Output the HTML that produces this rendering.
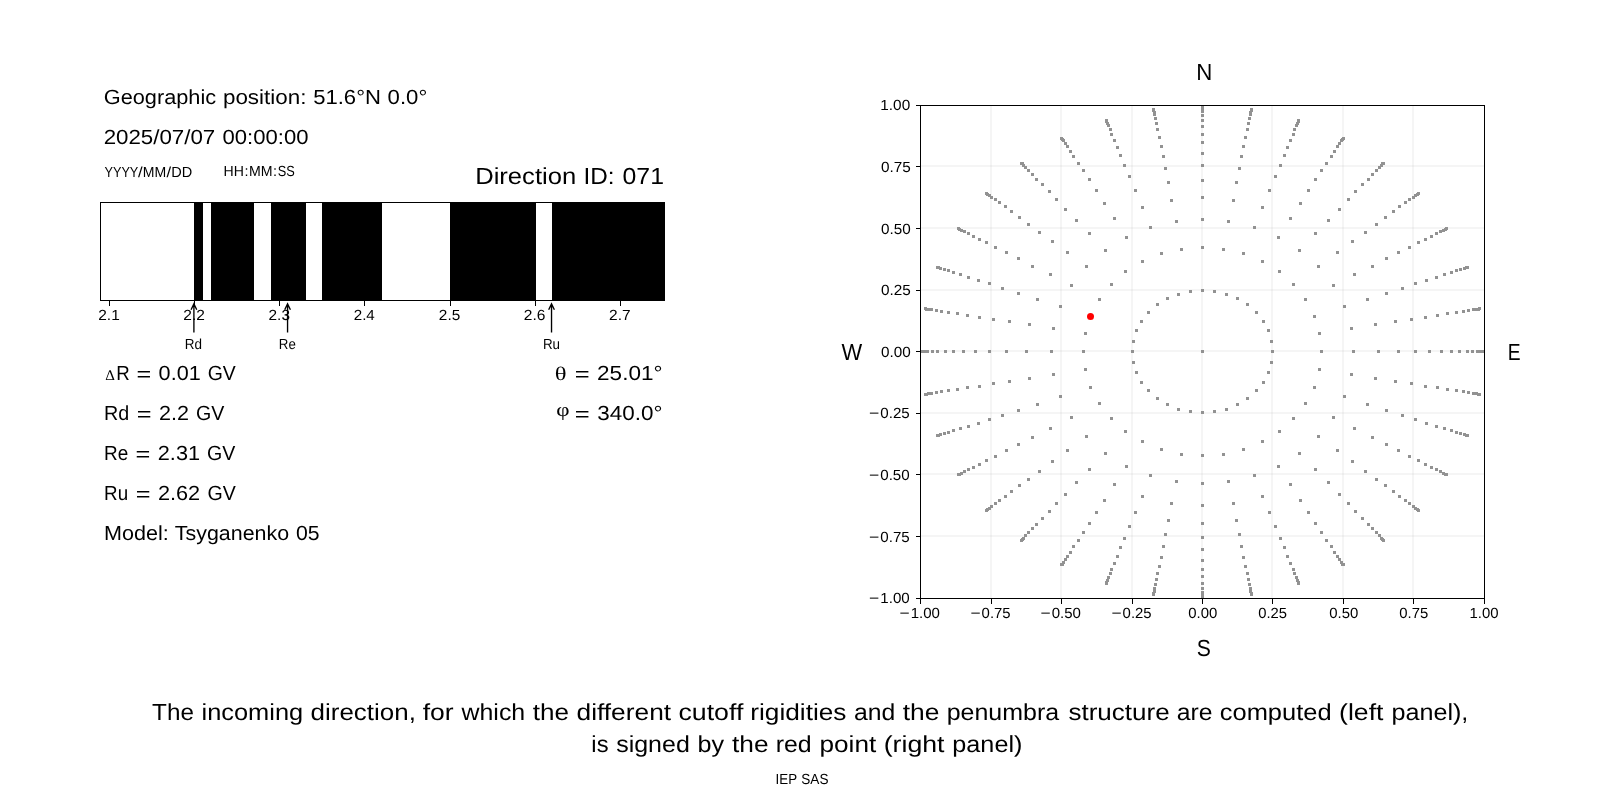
<!DOCTYPE html>
<html lang="en"><head><meta charset="utf-8"><title>Cutoff rigidity — direction 071</title>
<style>
html,body{margin:0;padding:0;background:#fff;}
body{width:1600px;height:800px;overflow:hidden;font-family:"Liberation Sans",sans-serif;}
svg{display:block;}
text{font-family:"Liberation Sans",sans-serif;fill:#000;white-space:pre;text-rendering:geometricPrecision;}
text.r{font-family:"Liberation Serif",serif;}
.sp{stroke:#000;stroke-width:1;fill:none;shape-rendering:crispEdges;}
.gr{stroke:#b0b0b0;stroke-opacity:0.12;stroke-width:2;shape-rendering:crispEdges;}
.pt rect{fill:#929292;shape-rendering:crispEdges;}
</style></head>
<body>
<svg style="will-change:transform" width="1600" height="800" viewBox="0 0 1600 800">
<rect x="0" y="0" width="1600" height="800" fill="#fff"/>
<g id="penumbra">
<rect x="194" y="202" width="9" height="99" fill="#000" shape-rendering="crispEdges"/>
<rect x="211" y="202" width="43" height="99" fill="#000" shape-rendering="crispEdges"/>
<rect x="271" y="202" width="35" height="99" fill="#000" shape-rendering="crispEdges"/>
<rect x="322" y="202" width="60" height="99" fill="#000" shape-rendering="crispEdges"/>
<rect x="450" y="202" width="86" height="99" fill="#000" shape-rendering="crispEdges"/>
<rect x="552" y="202" width="113" height="99" fill="#000" shape-rendering="crispEdges"/>
<rect class="sp" x="100.5" y="202.5" width="564" height="98"/>
<line class="sp" x1="109.5" y1="301" x2="109.5" y2="305.5"/>
<line class="sp" x1="194.5" y1="301" x2="194.5" y2="305.5"/>
<line class="sp" x1="279.5" y1="301" x2="279.5" y2="305.5"/>
<line class="sp" x1="364.5" y1="301" x2="364.5" y2="305.5"/>
<line class="sp" x1="450.5" y1="301" x2="450.5" y2="305.5"/>
<line class="sp" x1="535.5" y1="301" x2="535.5" y2="305.5"/>
<line class="sp" x1="620.5" y1="301" x2="620.5" y2="305.5"/>
<path d="M193.90 332.6V304.2 M191.05 309.7L193.90 303.9L196.75 309.7" stroke="#000" stroke-width="1.35" fill="none" stroke-linecap="butt" stroke-linejoin="miter"/>
<path d="M287.56 332.6V304.2 M284.71 309.7L287.56 303.9L290.41 309.7" stroke="#000" stroke-width="1.35" fill="none" stroke-linecap="butt" stroke-linejoin="miter"/>
<path d="M551.53 332.6V304.2 M548.68 309.7L551.53 303.9L554.38 309.7" stroke="#000" stroke-width="1.35" fill="none" stroke-linecap="butt" stroke-linejoin="miter"/>
</g>
<g id="skymap">
<line class="gr" x1="991" y1="106" x2="991" y2="598"/>
<line class="gr" x1="921" y1="536" x2="1484" y2="536"/>
<line class="gr" x1="1061" y1="106" x2="1061" y2="598"/>
<line class="gr" x1="921" y1="474" x2="1484" y2="474"/>
<line class="gr" x1="1132" y1="106" x2="1132" y2="598"/>
<line class="gr" x1="921" y1="413" x2="1484" y2="413"/>
<line class="gr" x1="1202" y1="106" x2="1202" y2="598"/>
<line class="gr" x1="921" y1="351" x2="1484" y2="351"/>
<line class="gr" x1="1272" y1="106" x2="1272" y2="598"/>
<line class="gr" x1="921" y1="290" x2="1484" y2="290"/>
<line class="gr" x1="1343" y1="106" x2="1343" y2="598"/>
<line class="gr" x1="921" y1="228" x2="1484" y2="228"/>
<line class="gr" x1="1413" y1="106" x2="1413" y2="598"/>
<line class="gr" x1="921" y1="166" x2="1484" y2="166"/>
<clipPath id="c"><rect x="920.5" y="105.5" width="564" height="493"/></clipPath>
<g class="pt" clip-path="url(#c)">
<rect x="1201" y="350" width="3" height="3"/><rect x="1271" y="350" width="3" height="3"/><rect x="1270" y="340" width="3" height="3"/><rect x="1267" y="329" width="3" height="3"/><rect x="1262" y="320" width="3" height="3"/><rect x="1255" y="311" width="3" height="3"/><rect x="1246" y="303" width="3" height="3"/><rect x="1236" y="297" width="3" height="3"/><rect x="1225" y="293" width="3" height="3"/><rect x="1213" y="290" width="3" height="3"/><rect x="1201" y="289" width="3" height="3"/><rect x="1189" y="290" width="3" height="3"/><rect x="1177" y="293" width="3" height="3"/><rect x="1166" y="297" width="3" height="3"/><rect x="1156" y="303" width="3" height="3"/><rect x="1147" y="311" width="3" height="3"/><rect x="1140" y="320" width="3" height="3"/><rect x="1135" y="329" width="3" height="3"/><rect x="1132" y="340" width="3" height="3"/><rect x="1131" y="350" width="3" height="3"/><rect x="1132" y="361" width="3" height="3"/><rect x="1135" y="371" width="3" height="3"/><rect x="1140" y="381" width="3" height="3"/><rect x="1147" y="389" width="3" height="3"/><rect x="1156" y="397" width="3" height="3"/><rect x="1166" y="403" width="3" height="3"/><rect x="1177" y="408" width="3" height="3"/><rect x="1189" y="410" width="3" height="3"/><rect x="1201" y="411" width="3" height="3"/><rect x="1213" y="410" width="3" height="3"/><rect x="1225" y="408" width="3" height="3"/><rect x="1236" y="403" width="3" height="3"/><rect x="1246" y="397" width="3" height="3"/><rect x="1255" y="389" width="3" height="3"/><rect x="1262" y="381" width="3" height="3"/><rect x="1267" y="371" width="3" height="3"/><rect x="1270" y="361" width="3" height="3"/><rect x="1320" y="350" width="3" height="3"/><rect x="1318" y="332" width="3" height="3"/><rect x="1313" y="315" width="3" height="3"/><rect x="1304" y="298" width="3" height="3"/><rect x="1292" y="283" width="3" height="3"/><rect x="1278" y="270" width="3" height="3"/><rect x="1261" y="260" width="3" height="3"/><rect x="1242" y="252" width="3" height="3"/><rect x="1222" y="248" width="3" height="3"/><rect x="1201" y="246" width="3" height="3"/><rect x="1180" y="248" width="3" height="3"/><rect x="1160" y="252" width="3" height="3"/><rect x="1141" y="260" width="3" height="3"/><rect x="1124" y="270" width="3" height="3"/><rect x="1110" y="283" width="3" height="3"/><rect x="1098" y="298" width="3" height="3"/><rect x="1089" y="315" width="3" height="3"/><rect x="1084" y="332" width="3" height="3"/><rect x="1082" y="350" width="3" height="3"/><rect x="1084" y="368" width="3" height="3"/><rect x="1089" y="386" width="3" height="3"/><rect x="1098" y="402" width="3" height="3"/><rect x="1110" y="417" width="3" height="3"/><rect x="1124" y="430" width="3" height="3"/><rect x="1141" y="440" width="3" height="3"/><rect x="1160" y="448" width="3" height="3"/><rect x="1180" y="453" width="3" height="3"/><rect x="1201" y="454" width="3" height="3"/><rect x="1222" y="453" width="3" height="3"/><rect x="1242" y="448" width="3" height="3"/><rect x="1261" y="440" width="3" height="3"/><rect x="1278" y="430" width="3" height="3"/><rect x="1292" y="417" width="3" height="3"/><rect x="1304" y="402" width="3" height="3"/><rect x="1313" y="386" width="3" height="3"/><rect x="1318" y="368" width="3" height="3"/><rect x="1352" y="350" width="3" height="3"/><rect x="1350" y="327" width="3" height="3"/><rect x="1343" y="305" width="3" height="3"/><rect x="1332" y="284" width="3" height="3"/><rect x="1317" y="265" width="3" height="3"/><rect x="1298" y="249" width="3" height="3"/><rect x="1277" y="236" width="3" height="3"/><rect x="1253" y="226" width="3" height="3"/><rect x="1227" y="220" width="3" height="3"/><rect x="1201" y="218" width="3" height="3"/><rect x="1175" y="220" width="3" height="3"/><rect x="1149" y="226" width="3" height="3"/><rect x="1125" y="236" width="3" height="3"/><rect x="1104" y="249" width="3" height="3"/><rect x="1085" y="265" width="3" height="3"/><rect x="1070" y="284" width="3" height="3"/><rect x="1059" y="305" width="3" height="3"/><rect x="1052" y="327" width="3" height="3"/><rect x="1050" y="350" width="3" height="3"/><rect x="1052" y="373" width="3" height="3"/><rect x="1059" y="395" width="3" height="3"/><rect x="1070" y="416" width="3" height="3"/><rect x="1085" y="435" width="3" height="3"/><rect x="1104" y="452" width="3" height="3"/><rect x="1125" y="465" width="3" height="3"/><rect x="1149" y="474" width="3" height="3"/><rect x="1175" y="480" width="3" height="3"/><rect x="1201" y="482" width="3" height="3"/><rect x="1227" y="480" width="3" height="3"/><rect x="1253" y="474" width="3" height="3"/><rect x="1277" y="465" width="3" height="3"/><rect x="1298" y="452" width="3" height="3"/><rect x="1317" y="435" width="3" height="3"/><rect x="1332" y="416" width="3" height="3"/><rect x="1343" y="395" width="3" height="3"/><rect x="1350" y="373" width="3" height="3"/><rect x="1377" y="350" width="3" height="3"/><rect x="1374" y="323" width="3" height="3"/><rect x="1366" y="298" width="3" height="3"/><rect x="1353" y="273" width="3" height="3"/><rect x="1336" y="251" width="3" height="3"/><rect x="1314" y="232" width="3" height="3"/><rect x="1289" y="217" width="3" height="3"/><rect x="1261" y="206" width="3" height="3"/><rect x="1232" y="199" width="3" height="3"/><rect x="1201" y="196" width="3" height="3"/><rect x="1170" y="199" width="3" height="3"/><rect x="1141" y="206" width="3" height="3"/><rect x="1113" y="217" width="3" height="3"/><rect x="1088" y="232" width="3" height="3"/><rect x="1066" y="251" width="3" height="3"/><rect x="1049" y="273" width="3" height="3"/><rect x="1036" y="298" width="3" height="3"/><rect x="1028" y="323" width="3" height="3"/><rect x="1025" y="350" width="3" height="3"/><rect x="1028" y="377" width="3" height="3"/><rect x="1036" y="403" width="3" height="3"/><rect x="1049" y="427" width="3" height="3"/><rect x="1066" y="449" width="3" height="3"/><rect x="1088" y="468" width="3" height="3"/><rect x="1113" y="483" width="3" height="3"/><rect x="1141" y="495" width="3" height="3"/><rect x="1170" y="502" width="3" height="3"/><rect x="1201" y="504" width="3" height="3"/><rect x="1232" y="502" width="3" height="3"/><rect x="1261" y="495" width="3" height="3"/><rect x="1289" y="483" width="3" height="3"/><rect x="1314" y="468" width="3" height="3"/><rect x="1336" y="449" width="3" height="3"/><rect x="1353" y="427" width="3" height="3"/><rect x="1366" y="403" width="3" height="3"/><rect x="1374" y="377" width="3" height="3"/><rect x="1397" y="350" width="3" height="3"/><rect x="1394" y="320" width="3" height="3"/><rect x="1385" y="292" width="3" height="3"/><rect x="1371" y="265" width="3" height="3"/><rect x="1351" y="240" width="3" height="3"/><rect x="1327" y="219" width="3" height="3"/><rect x="1299" y="202" width="3" height="3"/><rect x="1268" y="189" width="3" height="3"/><rect x="1235" y="181" width="3" height="3"/><rect x="1201" y="179" width="3" height="3"/><rect x="1167" y="181" width="3" height="3"/><rect x="1134" y="189" width="3" height="3"/><rect x="1103" y="202" width="3" height="3"/><rect x="1075" y="219" width="3" height="3"/><rect x="1051" y="240" width="3" height="3"/><rect x="1031" y="265" width="3" height="3"/><rect x="1017" y="292" width="3" height="3"/><rect x="1008" y="320" width="3" height="3"/><rect x="1005" y="350" width="3" height="3"/><rect x="1008" y="380" width="3" height="3"/><rect x="1017" y="409" width="3" height="3"/><rect x="1031" y="436" width="3" height="3"/><rect x="1051" y="460" width="3" height="3"/><rect x="1075" y="481" width="3" height="3"/><rect x="1103" y="499" width="3" height="3"/><rect x="1134" y="511" width="3" height="3"/><rect x="1167" y="519" width="3" height="3"/><rect x="1201" y="522" width="3" height="3"/><rect x="1235" y="519" width="3" height="3"/><rect x="1268" y="511" width="3" height="3"/><rect x="1299" y="499" width="3" height="3"/><rect x="1327" y="481" width="3" height="3"/><rect x="1351" y="460" width="3" height="3"/><rect x="1371" y="436" width="3" height="3"/><rect x="1385" y="409" width="3" height="3"/><rect x="1394" y="380" width="3" height="3"/><rect x="1414" y="350" width="3" height="3"/><rect x="1410" y="318" width="3" height="3"/><rect x="1401" y="287" width="3" height="3"/><rect x="1385" y="257" width="3" height="3"/><rect x="1364" y="231" width="3" height="3"/><rect x="1338" y="208" width="3" height="3"/><rect x="1307" y="189" width="3" height="3"/><rect x="1274" y="175" width="3" height="3"/><rect x="1238" y="167" width="3" height="3"/><rect x="1201" y="164" width="3" height="3"/><rect x="1164" y="167" width="3" height="3"/><rect x="1128" y="175" width="3" height="3"/><rect x="1095" y="189" width="3" height="3"/><rect x="1064" y="208" width="3" height="3"/><rect x="1038" y="231" width="3" height="3"/><rect x="1017" y="257" width="3" height="3"/><rect x="1001" y="287" width="3" height="3"/><rect x="992" y="318" width="3" height="3"/><rect x="988" y="350" width="3" height="3"/><rect x="992" y="382" width="3" height="3"/><rect x="1001" y="414" width="3" height="3"/><rect x="1017" y="443" width="3" height="3"/><rect x="1038" y="470" width="3" height="3"/><rect x="1064" y="493" width="3" height="3"/><rect x="1095" y="511" width="3" height="3"/><rect x="1128" y="525" width="3" height="3"/><rect x="1164" y="533" width="3" height="3"/><rect x="1201" y="536" width="3" height="3"/><rect x="1238" y="533" width="3" height="3"/><rect x="1274" y="525" width="3" height="3"/><rect x="1307" y="511" width="3" height="3"/><rect x="1338" y="493" width="3" height="3"/><rect x="1364" y="470" width="3" height="3"/><rect x="1385" y="443" width="3" height="3"/><rect x="1401" y="414" width="3" height="3"/><rect x="1410" y="382" width="3" height="3"/><rect x="1428" y="350" width="3" height="3"/><rect x="1424" y="316" width="3" height="3"/><rect x="1414" y="282" width="3" height="3"/><rect x="1397" y="251" width="3" height="3"/><rect x="1375" y="223" width="3" height="3"/><rect x="1347" y="198" width="3" height="3"/><rect x="1314" y="178" width="3" height="3"/><rect x="1279" y="164" width="3" height="3"/><rect x="1240" y="155" width="3" height="3"/><rect x="1201" y="152" width="3" height="3"/><rect x="1162" y="155" width="3" height="3"/><rect x="1123" y="164" width="3" height="3"/><rect x="1088" y="178" width="3" height="3"/><rect x="1055" y="198" width="3" height="3"/><rect x="1027" y="223" width="3" height="3"/><rect x="1005" y="251" width="3" height="3"/><rect x="988" y="282" width="3" height="3"/><rect x="978" y="316" width="3" height="3"/><rect x="974" y="350" width="3" height="3"/><rect x="978" y="385" width="3" height="3"/><rect x="988" y="418" width="3" height="3"/><rect x="1005" y="449" width="3" height="3"/><rect x="1027" y="478" width="3" height="3"/><rect x="1055" y="502" width="3" height="3"/><rect x="1088" y="522" width="3" height="3"/><rect x="1123" y="537" width="3" height="3"/><rect x="1162" y="545" width="3" height="3"/><rect x="1201" y="548" width="3" height="3"/><rect x="1240" y="545" width="3" height="3"/><rect x="1279" y="537" width="3" height="3"/><rect x="1314" y="522" width="3" height="3"/><rect x="1347" y="502" width="3" height="3"/><rect x="1375" y="478" width="3" height="3"/><rect x="1397" y="449" width="3" height="3"/><rect x="1414" y="418" width="3" height="3"/><rect x="1424" y="385" width="3" height="3"/><rect x="1440" y="350" width="3" height="3"/><rect x="1436" y="314" width="3" height="3"/><rect x="1425" y="279" width="3" height="3"/><rect x="1408" y="246" width="3" height="3"/><rect x="1384" y="216" width="3" height="3"/><rect x="1354" y="190" width="3" height="3"/><rect x="1320" y="169" width="3" height="3"/><rect x="1283" y="154" width="3" height="3"/><rect x="1242" y="145" width="3" height="3"/><rect x="1201" y="141" width="3" height="3"/><rect x="1160" y="145" width="3" height="3"/><rect x="1119" y="154" width="3" height="3"/><rect x="1082" y="169" width="3" height="3"/><rect x="1048" y="190" width="3" height="3"/><rect x="1018" y="216" width="3" height="3"/><rect x="994" y="246" width="3" height="3"/><rect x="977" y="279" width="3" height="3"/><rect x="966" y="314" width="3" height="3"/><rect x="962" y="350" width="3" height="3"/><rect x="966" y="386" width="3" height="3"/><rect x="977" y="422" width="3" height="3"/><rect x="994" y="455" width="3" height="3"/><rect x="1018" y="484" width="3" height="3"/><rect x="1048" y="510" width="3" height="3"/><rect x="1082" y="531" width="3" height="3"/><rect x="1119" y="546" width="3" height="3"/><rect x="1160" y="556" width="3" height="3"/><rect x="1201" y="559" width="3" height="3"/><rect x="1242" y="556" width="3" height="3"/><rect x="1283" y="546" width="3" height="3"/><rect x="1320" y="531" width="3" height="3"/><rect x="1354" y="510" width="3" height="3"/><rect x="1384" y="484" width="3" height="3"/><rect x="1408" y="455" width="3" height="3"/><rect x="1425" y="422" width="3" height="3"/><rect x="1436" y="386" width="3" height="3"/><rect x="1450" y="350" width="3" height="3"/><rect x="1446" y="312" width="3" height="3"/><rect x="1435" y="276" width="3" height="3"/><rect x="1417" y="241" width="3" height="3"/><rect x="1392" y="210" width="3" height="3"/><rect x="1361" y="183" width="3" height="3"/><rect x="1325" y="162" width="3" height="3"/><rect x="1286" y="146" width="3" height="3"/><rect x="1244" y="136" width="3" height="3"/><rect x="1201" y="133" width="3" height="3"/><rect x="1158" y="136" width="3" height="3"/><rect x="1116" y="146" width="3" height="3"/><rect x="1077" y="162" width="3" height="3"/><rect x="1041" y="183" width="3" height="3"/><rect x="1010" y="210" width="3" height="3"/><rect x="985" y="241" width="3" height="3"/><rect x="967" y="276" width="3" height="3"/><rect x="956" y="312" width="3" height="3"/><rect x="952" y="350" width="3" height="3"/><rect x="956" y="388" width="3" height="3"/><rect x="967" y="425" width="3" height="3"/><rect x="985" y="459" width="3" height="3"/><rect x="1010" y="490" width="3" height="3"/><rect x="1041" y="517" width="3" height="3"/><rect x="1077" y="539" width="3" height="3"/><rect x="1116" y="555" width="3" height="3"/><rect x="1158" y="565" width="3" height="3"/><rect x="1201" y="568" width="3" height="3"/><rect x="1244" y="565" width="3" height="3"/><rect x="1286" y="555" width="3" height="3"/><rect x="1325" y="539" width="3" height="3"/><rect x="1361" y="517" width="3" height="3"/><rect x="1392" y="490" width="3" height="3"/><rect x="1417" y="459" width="3" height="3"/><rect x="1435" y="425" width="3" height="3"/><rect x="1446" y="388" width="3" height="3"/><rect x="1458" y="350" width="3" height="3"/><rect x="1455" y="311" width="3" height="3"/><rect x="1443" y="273" width="3" height="3"/><rect x="1424" y="238" width="3" height="3"/><rect x="1398" y="205" width="3" height="3"/><rect x="1367" y="178" width="3" height="3"/><rect x="1330" y="155" width="3" height="3"/><rect x="1289" y="139" width="3" height="3"/><rect x="1246" y="128" width="3" height="3"/><rect x="1201" y="125" width="3" height="3"/><rect x="1156" y="128" width="3" height="3"/><rect x="1113" y="139" width="3" height="3"/><rect x="1072" y="155" width="3" height="3"/><rect x="1035" y="178" width="3" height="3"/><rect x="1004" y="205" width="3" height="3"/><rect x="978" y="238" width="3" height="3"/><rect x="959" y="273" width="3" height="3"/><rect x="947" y="311" width="3" height="3"/><rect x="944" y="350" width="3" height="3"/><rect x="947" y="389" width="3" height="3"/><rect x="959" y="427" width="3" height="3"/><rect x="978" y="463" width="3" height="3"/><rect x="1004" y="495" width="3" height="3"/><rect x="1035" y="523" width="3" height="3"/><rect x="1072" y="545" width="3" height="3"/><rect x="1113" y="562" width="3" height="3"/><rect x="1156" y="572" width="3" height="3"/><rect x="1201" y="575" width="3" height="3"/><rect x="1246" y="572" width="3" height="3"/><rect x="1289" y="562" width="3" height="3"/><rect x="1330" y="545" width="3" height="3"/><rect x="1367" y="523" width="3" height="3"/><rect x="1398" y="495" width="3" height="3"/><rect x="1424" y="463" width="3" height="3"/><rect x="1443" y="427" width="3" height="3"/><rect x="1455" y="389" width="3" height="3"/><rect x="1466" y="350" width="3" height="3"/><rect x="1462" y="310" width="3" height="3"/><rect x="1450" y="271" width="3" height="3"/><rect x="1430" y="235" width="3" height="3"/><rect x="1404" y="201" width="3" height="3"/><rect x="1371" y="173" width="3" height="3"/><rect x="1333" y="150" width="3" height="3"/><rect x="1292" y="133" width="3" height="3"/><rect x="1247" y="122" width="3" height="3"/><rect x="1201" y="119" width="3" height="3"/><rect x="1155" y="122" width="3" height="3"/><rect x="1110" y="133" width="3" height="3"/><rect x="1069" y="150" width="3" height="3"/><rect x="1031" y="173" width="3" height="3"/><rect x="998" y="201" width="3" height="3"/><rect x="972" y="235" width="3" height="3"/><rect x="952" y="271" width="3" height="3"/><rect x="940" y="310" width="3" height="3"/><rect x="936" y="350" width="3" height="3"/><rect x="940" y="390" width="3" height="3"/><rect x="952" y="429" width="3" height="3"/><rect x="972" y="466" width="3" height="3"/><rect x="998" y="499" width="3" height="3"/><rect x="1031" y="527" width="3" height="3"/><rect x="1069" y="551" width="3" height="3"/><rect x="1110" y="568" width="3" height="3"/><rect x="1155" y="578" width="3" height="3"/><rect x="1201" y="582" width="3" height="3"/><rect x="1247" y="578" width="3" height="3"/><rect x="1292" y="568" width="3" height="3"/><rect x="1333" y="551" width="3" height="3"/><rect x="1371" y="527" width="3" height="3"/><rect x="1404" y="499" width="3" height="3"/><rect x="1430" y="466" width="3" height="3"/><rect x="1450" y="429" width="3" height="3"/><rect x="1462" y="390" width="3" height="3"/><rect x="1471" y="350" width="3" height="3"/><rect x="1467" y="309" width="3" height="3"/><rect x="1455" y="269" width="3" height="3"/><rect x="1435" y="232" width="3" height="3"/><rect x="1408" y="198" width="3" height="3"/><rect x="1375" y="169" width="3" height="3"/><rect x="1336" y="145" width="3" height="3"/><rect x="1293" y="128" width="3" height="3"/><rect x="1248" y="117" width="3" height="3"/><rect x="1201" y="114" width="3" height="3"/><rect x="1154" y="117" width="3" height="3"/><rect x="1109" y="128" width="3" height="3"/><rect x="1066" y="145" width="3" height="3"/><rect x="1027" y="169" width="3" height="3"/><rect x="994" y="198" width="3" height="3"/><rect x="967" y="232" width="3" height="3"/><rect x="947" y="269" width="3" height="3"/><rect x="935" y="309" width="3" height="3"/><rect x="931" y="350" width="3" height="3"/><rect x="935" y="391" width="3" height="3"/><rect x="947" y="431" width="3" height="3"/><rect x="967" y="468" width="3" height="3"/><rect x="994" y="502" width="3" height="3"/><rect x="1027" y="531" width="3" height="3"/><rect x="1066" y="555" width="3" height="3"/><rect x="1109" y="572" width="3" height="3"/><rect x="1154" y="583" width="3" height="3"/><rect x="1201" y="587" width="3" height="3"/><rect x="1248" y="583" width="3" height="3"/><rect x="1293" y="572" width="3" height="3"/><rect x="1336" y="555" width="3" height="3"/><rect x="1375" y="531" width="3" height="3"/><rect x="1408" y="502" width="3" height="3"/><rect x="1435" y="468" width="3" height="3"/><rect x="1455" y="431" width="3" height="3"/><rect x="1467" y="391" width="3" height="3"/><rect x="1476" y="350" width="3" height="3"/><rect x="1472" y="308" width="3" height="3"/><rect x="1459" y="268" width="3" height="3"/><rect x="1439" y="230" width="3" height="3"/><rect x="1412" y="196" width="3" height="3"/><rect x="1378" y="166" width="3" height="3"/><rect x="1338" y="142" width="3" height="3"/><rect x="1295" y="124" width="3" height="3"/><rect x="1249" y="113" width="3" height="3"/><rect x="1201" y="110" width="3" height="3"/><rect x="1153" y="113" width="3" height="3"/><rect x="1107" y="124" width="3" height="3"/><rect x="1064" y="142" width="3" height="3"/><rect x="1024" y="166" width="3" height="3"/><rect x="990" y="196" width="3" height="3"/><rect x="963" y="230" width="3" height="3"/><rect x="943" y="268" width="3" height="3"/><rect x="930" y="308" width="3" height="3"/><rect x="926" y="350" width="3" height="3"/><rect x="930" y="392" width="3" height="3"/><rect x="943" y="432" width="3" height="3"/><rect x="963" y="470" width="3" height="3"/><rect x="990" y="505" width="3" height="3"/><rect x="1024" y="534" width="3" height="3"/><rect x="1064" y="558" width="3" height="3"/><rect x="1107" y="576" width="3" height="3"/><rect x="1153" y="587" width="3" height="3"/><rect x="1201" y="591" width="3" height="3"/><rect x="1249" y="587" width="3" height="3"/><rect x="1295" y="576" width="3" height="3"/><rect x="1338" y="558" width="3" height="3"/><rect x="1378" y="534" width="3" height="3"/><rect x="1412" y="505" width="3" height="3"/><rect x="1439" y="470" width="3" height="3"/><rect x="1459" y="432" width="3" height="3"/><rect x="1472" y="392" width="3" height="3"/><rect x="1479" y="350" width="3" height="3"/><rect x="1475" y="308" width="3" height="3"/><rect x="1463" y="267" width="3" height="3"/><rect x="1442" y="229" width="3" height="3"/><rect x="1414" y="194" width="3" height="3"/><rect x="1380" y="164" width="3" height="3"/><rect x="1340" y="139" width="3" height="3"/><rect x="1296" y="122" width="3" height="3"/><rect x="1249" y="111" width="3" height="3"/><rect x="1201" y="107" width="3" height="3"/><rect x="1153" y="111" width="3" height="3"/><rect x="1106" y="122" width="3" height="3"/><rect x="1062" y="139" width="3" height="3"/><rect x="1022" y="164" width="3" height="3"/><rect x="988" y="194" width="3" height="3"/><rect x="960" y="229" width="3" height="3"/><rect x="939" y="267" width="3" height="3"/><rect x="927" y="308" width="3" height="3"/><rect x="923" y="350" width="3" height="3"/><rect x="927" y="392" width="3" height="3"/><rect x="939" y="433" width="3" height="3"/><rect x="960" y="472" width="3" height="3"/><rect x="988" y="507" width="3" height="3"/><rect x="1022" y="537" width="3" height="3"/><rect x="1062" y="561" width="3" height="3"/><rect x="1106" y="579" width="3" height="3"/><rect x="1153" y="590" width="3" height="3"/><rect x="1201" y="594" width="3" height="3"/><rect x="1249" y="590" width="3" height="3"/><rect x="1296" y="579" width="3" height="3"/><rect x="1340" y="561" width="3" height="3"/><rect x="1380" y="537" width="3" height="3"/><rect x="1414" y="507" width="3" height="3"/><rect x="1442" y="472" width="3" height="3"/><rect x="1463" y="433" width="3" height="3"/><rect x="1475" y="392" width="3" height="3"/><rect x="1482" y="350" width="3" height="3"/><rect x="1477" y="308" width="3" height="3"/><rect x="1465" y="266" width="3" height="3"/><rect x="1444" y="228" width="3" height="3"/><rect x="1416" y="193" width="3" height="3"/><rect x="1381" y="162" width="3" height="3"/><rect x="1341" y="138" width="3" height="3"/><rect x="1297" y="120" width="3" height="3"/><rect x="1250" y="109" width="3" height="3"/><rect x="1201" y="105" width="3" height="3"/><rect x="1152" y="109" width="3" height="3"/><rect x="1105" y="120" width="3" height="3"/><rect x="1061" y="138" width="3" height="3"/><rect x="1021" y="162" width="3" height="3"/><rect x="986" y="193" width="3" height="3"/><rect x="958" y="228" width="3" height="3"/><rect x="937" y="266" width="3" height="3"/><rect x="925" y="308" width="3" height="3"/><rect x="920" y="350" width="3" height="3"/><rect x="925" y="393" width="3" height="3"/><rect x="937" y="434" width="3" height="3"/><rect x="958" y="473" width="3" height="3"/><rect x="986" y="508" width="3" height="3"/><rect x="1021" y="538" width="3" height="3"/><rect x="1061" y="563" width="3" height="3"/><rect x="1105" y="581" width="3" height="3"/><rect x="1152" y="592" width="3" height="3"/><rect x="1201" y="596" width="3" height="3"/><rect x="1250" y="592" width="3" height="3"/><rect x="1297" y="581" width="3" height="3"/><rect x="1341" y="563" width="3" height="3"/><rect x="1381" y="538" width="3" height="3"/><rect x="1416" y="508" width="3" height="3"/><rect x="1444" y="473" width="3" height="3"/><rect x="1465" y="434" width="3" height="3"/><rect x="1477" y="393" width="3" height="3"/><rect x="1483" y="350" width="3" height="3"/><rect x="1478" y="307" width="3" height="3"/><rect x="1466" y="266" width="3" height="3"/><rect x="1445" y="227" width="3" height="3"/><rect x="1417" y="192" width="3" height="3"/><rect x="1382" y="162" width="3" height="3"/><rect x="1342" y="137" width="3" height="3"/><rect x="1297" y="119" width="3" height="3"/><rect x="1250" y="108" width="3" height="3"/><rect x="1201" y="104" width="3" height="3"/><rect x="1152" y="108" width="3" height="3"/><rect x="1105" y="119" width="3" height="3"/><rect x="1060" y="137" width="3" height="3"/><rect x="1020" y="162" width="3" height="3"/><rect x="985" y="192" width="3" height="3"/><rect x="957" y="227" width="3" height="3"/><rect x="936" y="266" width="3" height="3"/><rect x="924" y="307" width="3" height="3"/><rect x="919" y="350" width="3" height="3"/><rect x="924" y="393" width="3" height="3"/><rect x="936" y="434" width="3" height="3"/><rect x="957" y="473" width="3" height="3"/><rect x="985" y="509" width="3" height="3"/><rect x="1020" y="539" width="3" height="3"/><rect x="1060" y="563" width="3" height="3"/><rect x="1105" y="582" width="3" height="3"/><rect x="1152" y="593" width="3" height="3"/><rect x="1201" y="596" width="3" height="3"/><rect x="1250" y="593" width="3" height="3"/><rect x="1297" y="582" width="3" height="3"/><rect x="1342" y="563" width="3" height="3"/><rect x="1382" y="539" width="3" height="3"/><rect x="1417" y="509" width="3" height="3"/><rect x="1445" y="473" width="3" height="3"/><rect x="1466" y="434" width="3" height="3"/><rect x="1478" y="393" width="3" height="3"/>
</g>
<circle cx="1090.5" cy="316.5" r="3.5" fill="#f00"/>
<rect class="sp" x="920.5" y="105.5" width="564" height="493"/>
<line class="sp" x1="920.5" y1="599" x2="920.5" y2="603.5"/><line class="sp" x1="915.5" y1="598.5" x2="920" y2="598.5"/>
<line class="sp" x1="991.5" y1="599" x2="991.5" y2="603.5"/><line class="sp" x1="915.5" y1="536.5" x2="920" y2="536.5"/>
<line class="sp" x1="1061.5" y1="599" x2="1061.5" y2="603.5"/><line class="sp" x1="915.5" y1="474.5" x2="920" y2="474.5"/>
<line class="sp" x1="1132.5" y1="599" x2="1132.5" y2="603.5"/><line class="sp" x1="915.5" y1="413.5" x2="920" y2="413.5"/>
<line class="sp" x1="1202.5" y1="599" x2="1202.5" y2="603.5"/><line class="sp" x1="915.5" y1="351.5" x2="920" y2="351.5"/>
<line class="sp" x1="1272.5" y1="599" x2="1272.5" y2="603.5"/><line class="sp" x1="915.5" y1="290.5" x2="920" y2="290.5"/>
<line class="sp" x1="1343.5" y1="599" x2="1343.5" y2="603.5"/><line class="sp" x1="915.5" y1="228.5" x2="920" y2="228.5"/>
<line class="sp" x1="1413.5" y1="599" x2="1413.5" y2="603.5"/><line class="sp" x1="915.5" y1="166.5" x2="920" y2="166.5"/>
<line class="sp" x1="1484.5" y1="599" x2="1484.5" y2="603.5"/><line class="sp" x1="915.5" y1="105.5" x2="920" y2="105.5"/>
</g>
<g id="labels" style="filter:grayscale(1)">
<text id="geo" y="104.00" font-size="20.42"><tspan id="geo.0" x="103.73" y="104.00" textLength="112.40" lengthAdjust="spacingAndGlyphs">Geographic</tspan> <tspan id="geo.1" x="222.94" y="104.00" textLength="83.50" lengthAdjust="spacingAndGlyphs">position:</tspan> <tspan id="geo.2" x="313.19" y="104.00" textLength="67.74" lengthAdjust="spacingAndGlyphs">51.6°N</tspan> <tspan id="geo.3" x="387.62" y="104.00" textLength="39.64" lengthAdjust="spacingAndGlyphs">0.0°</tspan></text>
<text id="date" y="144.00" font-size="20.42"><tspan id="date.0" x="103.66" y="144.00" textLength="111.60" lengthAdjust="spacingAndGlyphs">2025/07/07</tspan> <tspan id="date.1" x="222.59" y="144.00" textLength="85.86" lengthAdjust="spacingAndGlyphs">00:00:00</tspan></text>
<text id="yyyy" y="177.00" font-size="14.65"><tspan id="yyyy.0" x="104.42" y="177.00" textLength="33.94" lengthAdjust="spacingAndGlyphs">YYYY</tspan><tspan id="yyyy.1" x="138.07" y="177.00" textLength="4.64" lengthAdjust="spacingAndGlyphs">/</tspan><tspan id="yyyy.2" x="142.87" y="177.00" textLength="23.42" lengthAdjust="spacingAndGlyphs">MM</tspan><tspan id="yyyy.3" x="166.51" y="177.00" textLength="4.64" lengthAdjust="spacingAndGlyphs">/</tspan><tspan id="yyyy.4" x="171.28" y="177.00" textLength="21.02" lengthAdjust="spacingAndGlyphs">DD</tspan></text>
<text id="hh" y="176.00" font-size="14.65"><tspan id="hh.0" x="223.54" y="176.00" textLength="20.38" lengthAdjust="spacingAndGlyphs">HH</tspan><tspan id="hh.1" x="244.39" y="176.00" textLength="4.01" lengthAdjust="spacingAndGlyphs">:</tspan><tspan id="hh.2" x="248.92" y="176.00" textLength="23.58" lengthAdjust="spacingAndGlyphs">MM</tspan><tspan id="hh.3" x="273.02" y="176.00" textLength="4.01" lengthAdjust="spacingAndGlyphs">:</tspan><tspan id="hh.4" x="277.64" y="176.00" textLength="17.05" lengthAdjust="spacingAndGlyphs">SS</tspan></text>
<text id="dir" y="184.00" font-size="23.30"><tspan id="dir.0" x="475.15" y="184.00" textLength="101.11" lengthAdjust="spacingAndGlyphs">Direction</tspan> <tspan id="dir.1" x="583.41" y="184.00" textLength="31.06" lengthAdjust="spacingAndGlyphs">ID:</tspan> <tspan id="dir.2" x="622.54" y="184.00" textLength="41.41" lengthAdjust="spacingAndGlyphs">071</tspan></text>
<text id="dRd" y="380.00" font-size="14.72" class="r"><tspan id="dRd.0" x="105.17" textLength="9.67" lengthAdjust="spacingAndGlyphs">Δ</tspan></text>
<text id="dR" y="380.00" font-size="20.42"><tspan id="dR.0" x="116.29" y="380.00" textLength="13.50" lengthAdjust="spacingAndGlyphs">R</tspan> <tspan id="dR.1" x="136.46" y="381.10" textLength="14.73" lengthAdjust="spacingAndGlyphs">=</tspan> <tspan id="dR.2" x="158.63" y="380.00" textLength="42.02" lengthAdjust="spacingAndGlyphs">0.01</tspan> <tspan id="dR.3" x="207.73" y="380.00" textLength="28.07" lengthAdjust="spacingAndGlyphs">GV</tspan></text>
<text id="Rd" y="420.00" font-size="20.42"><tspan id="Rd.0" x="104.06" y="420.00" textLength="25.21" lengthAdjust="spacingAndGlyphs">Rd</tspan> <tspan id="Rd.1" x="136.78" y="421.10" textLength="14.80" lengthAdjust="spacingAndGlyphs">=</tspan> <tspan id="Rd.2" x="159.05" y="420.00" textLength="29.95" lengthAdjust="spacingAndGlyphs">2.2</tspan> <tspan id="Rd.3" x="196.06" y="420.00" textLength="28.36" lengthAdjust="spacingAndGlyphs">GV</tspan></text>
<text id="Re" y="460.00" font-size="20.42"><tspan id="Re.0" x="104.02" y="460.00" textLength="24.20" lengthAdjust="spacingAndGlyphs">Re</tspan> <tspan id="Re.1" x="135.59" y="461.10" textLength="14.82" lengthAdjust="spacingAndGlyphs">=</tspan> <tspan id="Re.2" x="157.80" y="460.00" textLength="42.23" lengthAdjust="spacingAndGlyphs">2.31</tspan> <tspan id="Re.3" x="207.10" y="460.00" textLength="28.31" lengthAdjust="spacingAndGlyphs">GV</tspan></text>
<text id="Ru" y="500.00" font-size="20.42"><tspan id="Ru.0" x="104.09" y="500.00" textLength="24.02" lengthAdjust="spacingAndGlyphs">Ru</tspan> <tspan id="Ru.1" x="135.86" y="501.10" textLength="14.79" lengthAdjust="spacingAndGlyphs">=</tspan> <tspan id="Ru.2" x="157.96" y="500.00" textLength="42.21" lengthAdjust="spacingAndGlyphs">2.62</tspan> <tspan id="Ru.3" x="207.56" y="500.00" textLength="28.29" lengthAdjust="spacingAndGlyphs">GV</tspan></text>
<text id="model" y="540.00" font-size="20.42"><tspan id="model.0" x="103.95" y="540.00" textLength="64.80" lengthAdjust="spacingAndGlyphs">Model:</tspan> <tspan id="model.1" x="174.89" y="540.00" textLength="114.18" lengthAdjust="spacingAndGlyphs">Tsyganenko</tspan> <tspan id="model.2" x="296.07" y="540.00" textLength="23.61" lengthAdjust="spacingAndGlyphs">05</tspan></text>
<text id="th1" y="380.00" font-size="19.36" class="r"><tspan id="th1.0" x="554.86" textLength="11.82" lengthAdjust="spacingAndGlyphs">θ</tspan></text>
<text id="th2" y="380.00" font-size="20.42"><tspan id="th2.0" x="574.75" y="381.10" textLength="14.90" lengthAdjust="spacingAndGlyphs">=</tspan> <tspan id="th2.1" x="597.08" y="380.00" textLength="65.38" lengthAdjust="spacingAndGlyphs">25.01°</tspan></text>
<text id="ph1" y="415.80" font-size="19.10" class="r"><tspan id="ph1.0" x="556.37" textLength="13.30" lengthAdjust="spacingAndGlyphs">φ</tspan></text>
<text id="ph2" y="420.00" font-size="20.42"><tspan id="ph2.0" x="574.75" y="421.10" textLength="14.95" lengthAdjust="spacingAndGlyphs">=</tspan> <tspan id="ph2.1" x="597.29" y="420.00" textLength="65.11" lengthAdjust="spacingAndGlyphs">340.0°</tspan></text>
<text id="cap1" y="720.00" font-size="23.30"><tspan id="cap1.0" x="152.09" y="720.00" textLength="41.86" lengthAdjust="spacingAndGlyphs">The</tspan> <tspan id="cap1.1" x="201.56" y="720.00" textLength="101.59" lengthAdjust="spacingAndGlyphs">incoming</tspan> <tspan id="cap1.2" x="310.63" y="720.00" textLength="105.23" lengthAdjust="spacingAndGlyphs">direction,</tspan> <tspan id="cap1.3" x="422.78" y="720.00" textLength="30.92" lengthAdjust="spacingAndGlyphs">for</tspan> <tspan id="cap1.4" x="461.51" y="720.00" textLength="63.74" lengthAdjust="spacingAndGlyphs">which</tspan> <tspan id="cap1.5" x="532.87" y="720.00" textLength="36.28" lengthAdjust="spacingAndGlyphs">the</tspan> <tspan id="cap1.6" x="576.51" y="720.00" textLength="94.60" lengthAdjust="spacingAndGlyphs">different</tspan> <tspan id="cap1.7" x="678.42" y="720.00" textLength="64.91" lengthAdjust="spacingAndGlyphs">cutoff</tspan> <tspan id="cap1.8" x="750.28" y="720.00" textLength="96.17" lengthAdjust="spacingAndGlyphs">rigidities</tspan> <tspan id="cap1.9" x="853.90" y="720.00" textLength="41.25" lengthAdjust="spacingAndGlyphs">and</tspan> <tspan id="cap1.10" x="902.79" y="720.00" textLength="36.73" lengthAdjust="spacingAndGlyphs">the</tspan> <tspan id="cap1.11" x="946.66" y="720.00" textLength="112.43" lengthAdjust="spacingAndGlyphs">penumbra</tspan> <tspan id="cap1.12" x="1068.48" y="720.00" textLength="101.13" lengthAdjust="spacingAndGlyphs">structure</tspan> <tspan id="cap1.13" x="1176.80" y="720.00" textLength="35.74" lengthAdjust="spacingAndGlyphs">are</tspan> <tspan id="cap1.14" x="1219.77" y="720.00" textLength="111.77" lengthAdjust="spacingAndGlyphs">computed</tspan> <tspan id="cap1.15" x="1339.09" y="720.00" textLength="44.36" lengthAdjust="spacingAndGlyphs">(left</tspan> <tspan id="cap1.16" x="1391.40" y="720.00" textLength="76.97" lengthAdjust="spacingAndGlyphs">panel),</tspan></text>
<text id="cap2" y="752.00" font-size="23.30"><tspan id="cap2.0" x="591.38" y="752.00" textLength="17.16" lengthAdjust="spacingAndGlyphs">is</tspan> <tspan id="cap2.1" x="616.16" y="752.00" textLength="73.63" lengthAdjust="spacingAndGlyphs">signed</tspan> <tspan id="cap2.2" x="697.54" y="752.00" textLength="26.57" lengthAdjust="spacingAndGlyphs">by</tspan> <tspan id="cap2.3" x="732.03" y="752.00" textLength="36.58" lengthAdjust="spacingAndGlyphs">the</tspan> <tspan id="cap2.4" x="775.73" y="752.00" textLength="35.93" lengthAdjust="spacingAndGlyphs">red</tspan> <tspan id="cap2.5" x="819.48" y="752.00" textLength="56.75" lengthAdjust="spacingAndGlyphs">point</tspan> <tspan id="cap2.6" x="883.73" y="752.00" textLength="60.78" lengthAdjust="spacingAndGlyphs">(right</tspan> <tspan id="cap2.7" x="952.33" y="752.00" textLength="70.08" lengthAdjust="spacingAndGlyphs">panel)</tspan></text>
<text id="iep" y="784.00" font-size="14.65"><tspan id="iep.0" x="775.55" y="784.00" textLength="21.29" lengthAdjust="spacingAndGlyphs">IEP</tspan> <tspan id="iep.1" x="801.29" y="784.00" textLength="27.19" lengthAdjust="spacingAndGlyphs">SAS</tspan></text>
<text id="N" y="80.00" font-size="23.30"><tspan id="N.0" x="1196.22" textLength="16.07" lengthAdjust="spacingAndGlyphs">N</tspan></text>
<text id="S" y="656.00" font-size="23.30"><tspan id="S.0" x="1196.81" textLength="14.12" lengthAdjust="spacingAndGlyphs">S</tspan></text>
<text id="W" y="360.00" font-size="23.30"><tspan id="W.0" x="841.62" textLength="20.70" lengthAdjust="spacingAndGlyphs">W</tspan></text>
<text id="E" y="360.00" font-size="23.30"><tspan id="E.0" x="1507.70" textLength="12.84" lengthAdjust="spacingAndGlyphs">E</tspan></text>
<text id="lRd" y="349.00" font-size="14.65"><tspan id="lRd.0" x="184.80" textLength="17.23" lengthAdjust="spacingAndGlyphs">Rd</tspan></text>
<text id="lRe" y="349.00" font-size="14.65"><tspan id="lRe.0" x="278.81" textLength="17.00" lengthAdjust="spacingAndGlyphs">Re</tspan></text>
<text id="lRu" y="349.00" font-size="14.65"><tspan id="lRu.0" x="542.94" textLength="17.11" lengthAdjust="spacingAndGlyphs">Ru</tspan></text>
<text id="bt0" y="320.00" font-size="14.65"><tspan id="bt0.0" x="98.26" textLength="21.47" lengthAdjust="spacingAndGlyphs">2.1</tspan></text>
<text id="bt1" y="320.00" font-size="14.65"><tspan id="bt1.0" x="183.27" textLength="21.53" lengthAdjust="spacingAndGlyphs">2.2</tspan></text>
<text id="bt2" y="320.00" font-size="14.65"><tspan id="bt2.0" x="268.57" textLength="21.40" lengthAdjust="spacingAndGlyphs">2.3</tspan></text>
<text id="bt3" y="320.00" font-size="14.65"><tspan id="bt3.0" x="353.73" textLength="21.07" lengthAdjust="spacingAndGlyphs">2.4</tspan></text>
<text id="bt4" y="320.00" font-size="14.65"><tspan id="bt4.0" x="438.87" textLength="21.39" lengthAdjust="spacingAndGlyphs">2.5</tspan></text>
<text id="bt5" y="320.00" font-size="14.65"><tspan id="bt5.0" x="523.82" textLength="21.63" lengthAdjust="spacingAndGlyphs">2.6</tspan></text>
<text id="bt6" y="320.00" font-size="14.65"><tspan id="bt6.0" x="609.05" textLength="21.53" lengthAdjust="spacingAndGlyphs">2.7</tspan></text>
<text id="yt0" y="603.00" font-size="14.65"><tspan id="yt0.0" x="869.14" y="603.00" textLength="10.22" lengthAdjust="spacingAndGlyphs">−</tspan><tspan id="yt0.1" x="880.31" y="603.00" textLength="29.38" lengthAdjust="spacingAndGlyphs">1.00</tspan></text>
<text id="xt0" y="618.00" font-size="14.65"><tspan id="xt0.0" x="899.64" y="618.00" textLength="10.16" lengthAdjust="spacingAndGlyphs">−</tspan><tspan id="xt0.1" x="910.76" y="618.00" textLength="29.22" lengthAdjust="spacingAndGlyphs">1.00</tspan></text>
<text id="yt1" y="542.00" font-size="14.65"><tspan id="yt1.0" x="869.13" y="542.00" textLength="10.31" lengthAdjust="spacingAndGlyphs">−</tspan><tspan id="yt1.1" x="880.30" y="542.00" textLength="29.43" lengthAdjust="spacingAndGlyphs">0.75</tspan></text>
<text id="xt1" y="618.00" font-size="14.65"><tspan id="xt1.0" x="970.64" y="618.00" textLength="10.15" lengthAdjust="spacingAndGlyphs">−</tspan><tspan id="xt1.1" x="981.64" y="618.00" textLength="28.98" lengthAdjust="spacingAndGlyphs">0.75</tspan></text>
<text id="yt2" y="480.00" font-size="14.65"><tspan id="yt2.0" x="869.13" y="480.00" textLength="10.25" lengthAdjust="spacingAndGlyphs">−</tspan><tspan id="yt2.1" x="880.23" y="480.00" textLength="29.46" lengthAdjust="spacingAndGlyphs">0.50</tspan></text>
<text id="xt2" y="618.00" font-size="14.65"><tspan id="xt2.0" x="1040.64" y="618.00" textLength="10.17" lengthAdjust="spacingAndGlyphs">−</tspan><tspan id="xt2.1" x="1051.66" y="618.00" textLength="29.23" lengthAdjust="spacingAndGlyphs">0.50</tspan></text>
<text id="yt3" y="418.00" font-size="14.65"><tspan id="yt3.0" x="869.13" y="418.00" textLength="10.31" lengthAdjust="spacingAndGlyphs">−</tspan><tspan id="yt3.1" x="880.30" y="418.00" textLength="29.43" lengthAdjust="spacingAndGlyphs">0.25</tspan></text>
<text id="xt3" y="618.00" font-size="14.65"><tspan id="xt3.0" x="1111.64" y="618.00" textLength="10.15" lengthAdjust="spacingAndGlyphs">−</tspan><tspan id="xt3.1" x="1122.64" y="618.00" textLength="28.98" lengthAdjust="spacingAndGlyphs">0.25</tspan></text>
<text id="yt4" y="357.00" font-size="14.65"><tspan id="yt4.0" x="881.02" textLength="29.66" lengthAdjust="spacingAndGlyphs">0.00</tspan></text>
<text id="xt4" y="618.00" font-size="14.65"><tspan id="xt4.0" x="1188.34" textLength="29.03" lengthAdjust="spacingAndGlyphs">0.00</tspan></text>
<text id="yt5" y="295.00" font-size="14.65"><tspan id="yt5.0" x="880.99" textLength="29.81" lengthAdjust="spacingAndGlyphs">0.25</tspan></text>
<text id="xt5" y="618.00" font-size="14.65"><tspan id="xt5.0" x="1258.28" textLength="28.79" lengthAdjust="spacingAndGlyphs">0.25</tspan></text>
<text id="yt6" y="234.00" font-size="14.65"><tspan id="yt6.0" x="881.02" textLength="29.66" lengthAdjust="spacingAndGlyphs">0.50</tspan></text>
<text id="xt6" y="618.00" font-size="14.65"><tspan id="xt6.0" x="1329.31" textLength="29.05" lengthAdjust="spacingAndGlyphs">0.50</tspan></text>
<text id="yt7" y="172.00" font-size="14.65"><tspan id="yt7.0" x="880.99" textLength="29.81" lengthAdjust="spacingAndGlyphs">0.75</tspan></text>
<text id="xt7" y="618.00" font-size="14.65"><tspan id="xt7.0" x="1399.26" textLength="28.98" lengthAdjust="spacingAndGlyphs">0.75</tspan></text>
<text id="yt8" y="110.00" font-size="14.65"><tspan id="yt8.0" x="880.35" textLength="29.83" lengthAdjust="spacingAndGlyphs">1.00</tspan></text>
<text id="xt8" y="618.00" font-size="14.65"><tspan id="xt8.0" x="1469.47" textLength="28.99" lengthAdjust="spacingAndGlyphs">1.00</tspan></text>
</g>
</svg>
</body></html>
